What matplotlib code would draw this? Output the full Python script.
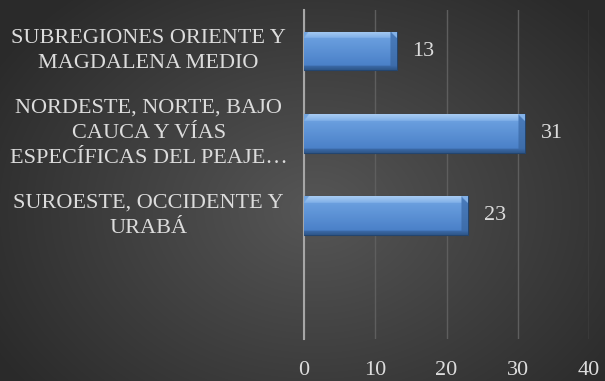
import matplotlib
matplotlib.use("Agg")
import matplotlib.pyplot as plt
import numpy as np

# data (top to bottom as shown in the chart)
categories = [
    "SUBREGIONES ORIENTE Y\nMAGDALENA MEDIO",
    "NORDESTE, NORTE, BAJO\nCAUCA Y VÍAS\nESPECÍFICAS DEL PEAJE…",
    "SUROESTE, OCCIDENTE Y\nURABÁ",
]
values = [13, 31, 23]
xticks = [0, 10, 20, 30, 40]

txt_color = "#dcdcdc"
font = ["Liberation Serif", "DejaVu Serif"]
fs = 16

W, H, DPI = 605, 381, 100
fig = plt.figure(figsize=(W / DPI, H / DPI), dpi=DPI)

# radial grey background over the whole figure
bg = fig.add_axes([0, 0, 1, 1])
yy, xx = np.mgrid[0:H, 0:W]
d = np.sqrt(((xx - 0.52 * W) / (0.62 * W)) ** 2 + ((yy - 0.55 * H) / (0.75 * H)) ** 2)
d = np.clip(d, 0, 1)
c0, c1 = 0x56, 0x2a
g = (c0 + (c1 - c0) * d) / 255.0
bg.imshow(np.dstack([g, g, g]), aspect="auto", extent=[0, 1, 0, 1], zorder=0)
bg.set_axis_off()

ax = fig.add_axes([304 / W, 1 - 339 / H, (589 - 304) / W, (339 - 10) / H])
ax.set_facecolor("none")

ypos = [3, 2, 1]
bars = ax.barh(ypos, values, height=0.47, color="#5089cf", edgecolor="#23456f",
               linewidth=0.8, zorder=3)


def mix(c_a, c_b, t):
    c_a = np.array(matplotlib.colors.to_rgb(c_a))
    c_b = np.array(matplotlib.colors.to_rgb(c_b))
    t = np.clip(t, 0, 1)
    return c_a[None, None, :] * (1 - t[..., None]) + c_b[None, None, :] * t[..., None]


# bevel shading on each bar
px_per_unit = 285 / 40.0
tb = 0.17   # top highlight band
bb = 0.11   # bottom dark band
for b in bars:
    x0, y0, bw, bh = b.get_x(), b.get_y(), b.get_width(), b.get_height()
    nx, ny = int(bw * px_per_unit) * 2, 80
    u = np.linspace(0, 1, nx)[None, :] * np.ones((ny, 1))
    v = np.linspace(1, 0, ny)[:, None] * np.ones((1, nx))  # v=1 at top
    img = mix("#4a80c8", "#6a9fdf", (v - bb) / (1 - tb - bb))
    top = v > 1 - tb
    img[top] = mix("#80b0e8", "#a8ccf3", (v - 1 + tb) / tb)[top]
    bot = v < bb
    img[bot] = mix("#2e5688", "#3d6cab", v / bb)[bot]
    bev = 6.5 / (bw * px_per_unit)
    right = (u > 1 - bev) & (v >= bb)
    img[right] = mix("#3c6ba8", "#4a7cbc", v)[right]
    diag = (u > 1 - bev) & top & ((1 - u) / bev < (v - 1 + tb) / tb)
    img[diag] = [0.52, 0.70, 0.91]
    left = (u < bev * 0.7) & top & (u / (bev * 0.7) < (v - 1 + tb) / tb)
    img[left] = [0.45, 0.65, 0.88]
    im = ax.imshow(np.clip(img, 0, 1), extent=[x0, x0 + bw, y0, y0 + bh],
                   aspect="auto", zorder=3.5, interpolation="bilinear")
    im.set_clip_path(b)
    ax.text(x0 + bw + 2.2, y0 + bh / 2, str(int(bw)), color=txt_color,
            fontsize=fs, family=font, va="center", ha="left", zorder=5)

ax.set_xlim(0, 40)
ax.set_ylim(-0.5, 3.5)
ax.set_xticks(xticks)
ax.set_xticklabels([str(t) for t in xticks], color=txt_color, fontsize=fs, family=font)
ax.tick_params(axis="x", length=0, pad=16)
ax.set_yticks([])
ax.grid(axis="x", color="#5e5e5e", linewidth=1.0, zorder=1)
for s in ["top", "right", "bottom"]:
    ax.spines[s].set_visible(False)
ax.spines["left"].set_color("#a6a6a6")
ax.spines["left"].set_linewidth(1.5)

# category labels, centred block to the left of the axis
for lab, yp in zip(categories, ypos):
    ax.text(-21.8, yp, lab, color=txt_color, fontsize=fs, family=font,
            ha="center", va="center", multialignment="center", linespacing=1.45)

fig.savefig("out.png", dpi=DPI, facecolor="#333333")
